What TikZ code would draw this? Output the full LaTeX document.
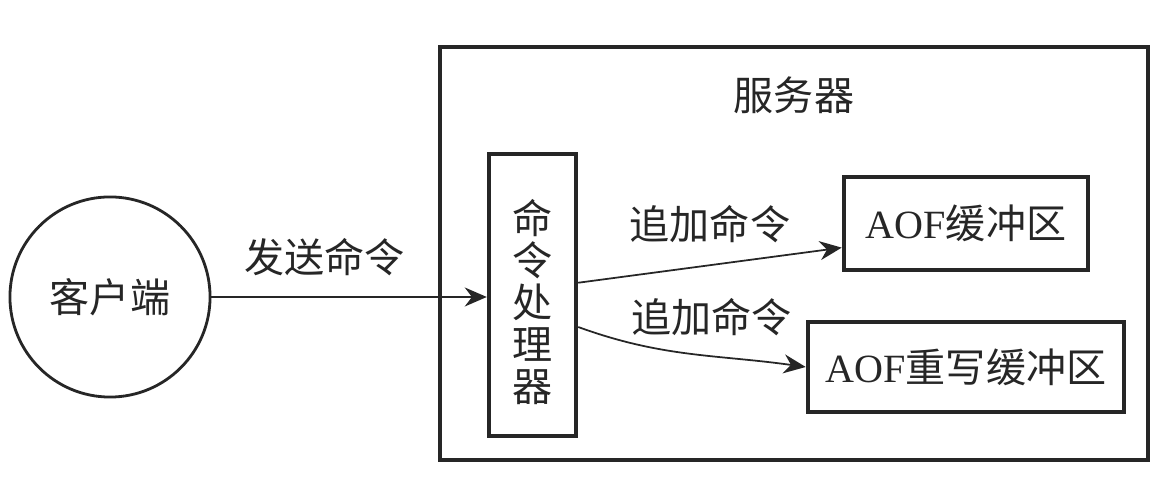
\documentclass[tikz,border=0pt]{standalone}
\usepackage{fontspec}
\setmainfont{Liberation Serif}
\newfontfamily\cjk{Noto Sans CJK SC}
\usetikzlibrary{arrows.meta,positioning}

\begin{document}
\begin{tikzpicture}[
  x=0.01cm, y=-0.01cm,
  font=\fontsize{11.4pt}{13pt}\selectfont\cjk,
  color=black!85,
  box/.style={draw, line width=1.25pt, inner sep=0pt, align=center},
  arr/.style={-{Stealth[length=2.2mm,width=1.9mm]}, line width=0.5pt}
]
\useasboundingbox (0,0) rectangle (1176,498);

% --- client ---
\node[draw, circle, line width=0.8pt, minimum size=2cm, inner sep=0pt] (client) at (110,297) {客户端};

% --- server frame ---
\node[box, minimum width=7.08cm, minimum height=4.13cm] (server) at (794,253.5) {};
\node[below=0.2cm of server.north] (srvtitle) {服务器};

% --- inside the server ---
\node[box, minimum width=0.87cm, minimum height=2.82cm] (proc) at (532.5,295) {};
\node[align=center, font=\fontsize{11.4pt}{11.9pt}\selectfont\cjk] (proctext) at (532.5,302) {命\\令\\处\\理\\器};
\node[box, minimum width=2.44cm, minimum height=0.93cm] (aofbuf) at (966,223.5) {{\rmfamily AOF}缓冲区};
\node[box, minimum width=3.16cm, minimum height=0.90cm] (rewbuf) at (966,367) {{\rmfamily AOF}重写缓冲区};

% --- connectors ---
\draw[arr] (client.east) -- node[above=0.08cm, pos=0.41] (sendlbl) {发送命令} (client.east -| proc.west);
\draw[arr] (proc.15) -- node[above=0.1cm] (applbl1) {追加命令} (aofbuf.191);
\draw[arr] (proc.-35) to[out=-20, in=172] node[above=0.08cm, pos=0.6] (applbl2) {追加命令} (rewbuf.west);

\end{tikzpicture}
\end{document}
